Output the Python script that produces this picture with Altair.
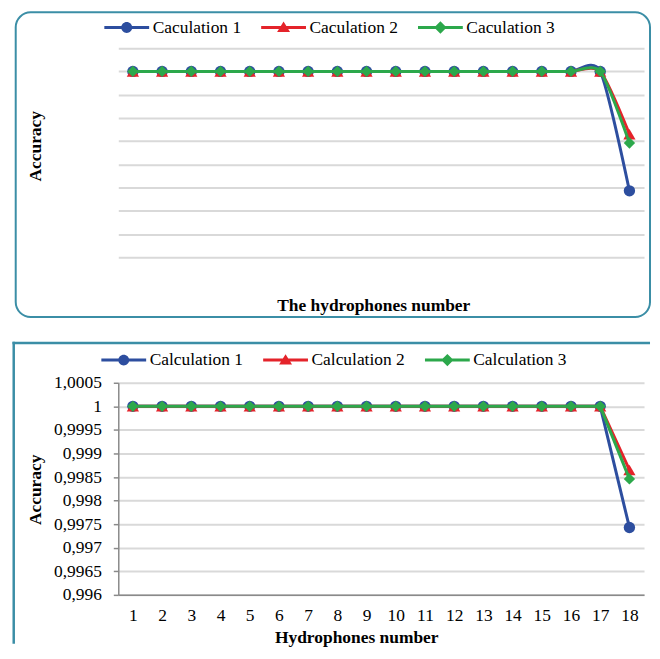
import altair as alt
import pandas as pd

# ---------------- data ----------------
hydrophones = [1, 2, 3, 4, 5, 6, 7, 8, 9, 10, 11, 12, 13, 14, 15, 16, 17, 18]
calc_1 = [1.0, 1.0, 1.0, 1.0, 1.0, 1.0, 1.0, 1.0, 1.0, 1.0, 1.0, 1.0, 1.0, 1.0, 1.0, 1.0, 1.0, 0.99743]
calc_2 = [1.0, 1.0, 1.0, 1.0, 1.0, 1.0, 1.0, 1.0, 1.0, 1.0, 1.0, 1.0, 1.0, 1.0, 1.0, 1.0, 1.0, 0.99865]
calc_3 = [1.0, 1.0, 1.0, 1.0, 1.0, 1.0, 1.0, 1.0, 1.0, 1.0, 1.0, 1.0, 1.0, 1.0, 1.0, 1.0, 1.0, 0.99846]

top_names = ["Caculation 1", "Caculation 2", "Caculation 3"]
bottom_names = ["Calculation 1", "Calculation 2", "Calculation 3"]

y_ticks = [0.996, 0.9965, 0.997, 0.9975, 0.998, 0.9985, 0.999, 0.9995, 1.0, 1.0005]
x_ticks = hydrophones

# ---------------- styles ----------------
series_colors = ["#2d4e9f", "#e4232a", "#2ca84b"]
marker_shapes = ["circle", "triangle-up", "diamond"]
marker_sizes = [130, 150, 130]
# legend symbols: a line segment with the series marker in the middle
legend_paths = [
    "M-2.25,-0.15H2.25V0.15H-2.25Z M-0.55,0A0.55,0.55 0 1,1 0.55,0A0.55,0.55 0 1,1 -0.55,0Z",
    "M-2.25,-0.15H2.25V0.15H-2.25Z M-0.65,0.45L0,-0.6L0.65,0.45Z",
    "M-2.25,-0.15H2.25V0.15H-2.25Z M-0.62,0L0,-0.62L0.62,0L0,0.62Z",
]

FONT = "Liberation Serif"
FS = 17.5
BORDER = "#3b8ea6"
GRID = "#d9d9d9"
AXIS = "#8a8a8a"

W = 528
H_TOP = 210
H_BOT = 213


def make_df(names):
    rows = []
    for name, vals in zip(names, [calc_1, calc_2, calc_3]):
        for x, v in zip(hydrophones, vals):
            rows.append({"series": name, "x": x, "y": v})
    return pd.DataFrame(rows)


def panel(names, height, smooth, full_axes, legend_x, legend_y,
          y_title_pos, x_title, x_title_pos, frame):
    df = make_df(names)
    common_title = dict(titleFont=FONT, titleFontSize=FS, titleFontWeight="bold",
                        titleColor="black", titleAlign="center", titleBaseline="middle")
    if full_axes:
        x_axis = alt.Axis(values=x_ticks, ticks=False, grid=False, domain=True,
                          domainColor=AXIS, domainWidth=1.5,
                          labelFont=FONT, labelFontSize=FS, labelColor="black",
                          labelPadding=12, labelFlush=False, labelOverlap=False,
                          title=x_title, titleX=x_title_pos[0], titleY=x_title_pos[1],
                          **common_title)
        y_axis = alt.Axis(values=y_ticks,
                          labelExpr="replace(format(datum.value, '~g'), '.', ',')",
                          ticks=True, tickSize=5, tickColor=AXIS, tickWidth=1.5,
                          grid=True, gridColor=GRID, gridWidth=2,
                          domain=True, domainColor=AXIS, domainWidth=1.5,
                          labelFont=FONT, labelFontSize=FS, labelColor="black",
                          labelPadding=12, labelFlush=False, labelOverlap=False,
                          title="Accuracy", titleAngle=270,
                          titleX=y_title_pos[0], titleY=y_title_pos[1],
                          **common_title)
    else:
        x_axis = alt.Axis(values=x_ticks, ticks=False, grid=False, domain=False,
                          labels=False,
                          title=x_title, titleX=x_title_pos[0], titleY=x_title_pos[1],
                          **common_title)
        y_axis = alt.Axis(values=y_ticks, ticks=False, grid=True, gridColor=GRID,
                          gridWidth=2, domain=False, labels=False,
                          title="Accuracy", titleAngle=270,
                          titleX=y_title_pos[0], titleY=y_title_pos[1],
                          **common_title)

    X = alt.X("x:Q", scale=alt.Scale(domain=[0.5, 18.5], nice=False, zero=False), axis=x_axis)
    Y = alt.Y("y:Q", scale=alt.Scale(domain=[0.996, 1.0005], nice=False, zero=False), axis=y_axis)

    layers = list(frame)
    for name, col, shp, sz in zip(names, series_colors, marker_shapes, marker_sizes):
        src = alt.Chart(df).transform_filter(alt.datum.series == name)
        if smooth:
            ln = src.mark_line(color=col, strokeWidth=3, interpolate="cardinal", tension=0.3)
        else:
            ln = src.mark_line(color=col, strokeWidth=3)
        layers.append(ln.encode(x=X, y=Y))
        layers.append(src.mark_point(filled=True, shape=shp, size=sz, color=col, opacity=1)
                      .encode(x=X, y=Y))

    leg = alt.Legend(orient="none", legendX=legend_x, legendY=legend_y,
                     direction="horizontal", title=None, padding=0,
                     symbolSize=400, symbolStrokeWidth=0,
                     labelFont=FONT, labelFontSize=FS, labelColor="black",
                     labelOffset=16, columnPadding=19.5, labelLimit=300)
    legend_layer = (alt.Chart(df).transform_filter("false")
                    .mark_point(filled=True, opacity=1)
                    .encode(color=alt.Color("series:N",
                                            scale=alt.Scale(domain=names, range=series_colors),
                                            legend=leg),
                            shape=alt.Shape("series:N",
                                            scale=alt.Scale(domain=names, range=legend_paths),
                                            legend=leg)))
    layers.append(legend_layer)
    return alt.layer(*layers).properties(width=W, height=height)


one = alt.Data(values=[{"k": 1}])

top_frame = [
    alt.Chart(one).mark_rect(fill="transparent", stroke=BORDER, strokeWidth=2, cornerRadius=15)
    .encode(x=alt.value(-103), x2=alt.value(534), y=alt.value(-36), y2=alt.value(270))
]
bottom_frame = [
    alt.Chart(one).mark_rule(stroke=BORDER, strokeWidth=2.5)
    .encode(x=alt.value(-106.25), x2=alt.value(534), y=alt.value(-40)),
    alt.Chart(one).mark_rule(stroke=BORDER, strokeWidth=2.5)
    .encode(x=alt.value(-105), y=alt.value(-41.25), y2=alt.value(262)),
]

top = panel(top_names, H_TOP, True, False, -1.5, -31,
            (-83, 98), "The hydrophones number", (256, 48), top_frame)
bottom = panel(bottom_names, H_BOT, False, True, -4.5, -33,
               (-83, 107), "Hydrophones number", (239, 43), bottom_frame)

chart = (alt.vconcat(top, bottom, spacing=126, bounds="flush")
         .resolve_scale(color="independent", shape="independent")
         .resolve_legend(color="independent", shape="independent")
         .properties(padding={"left": 2.75, "top": 1, "right": 0, "bottom": 0})
         .configure(font=FONT)
         .configure_view(stroke="transparent"))

chart.save("out.html", embed_options={"renderer": "svg", "actions": False})
